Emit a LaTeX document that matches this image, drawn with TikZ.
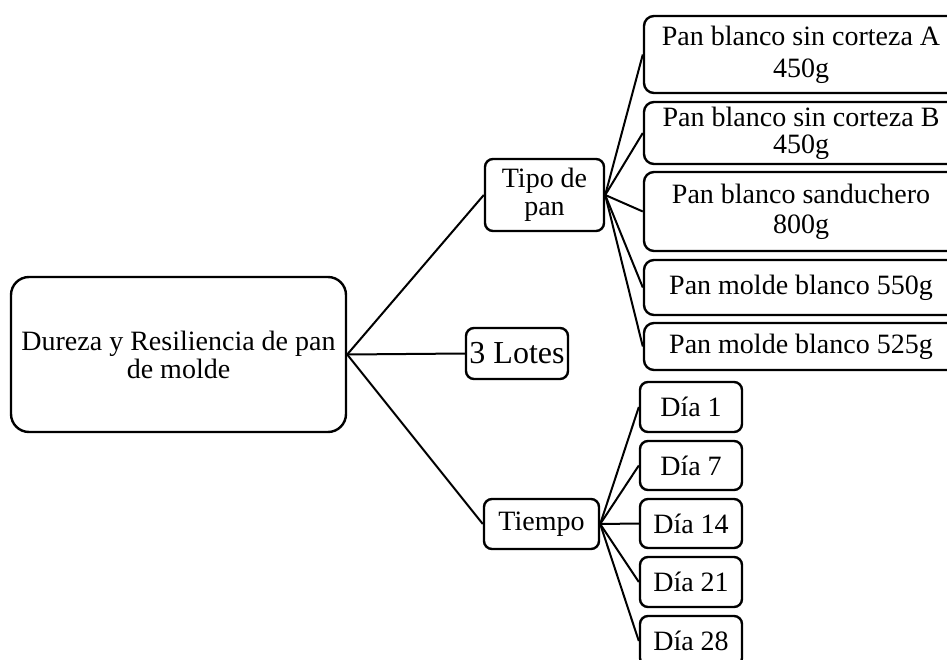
\documentclass[tikz,border=0pt]{standalone}
\usepackage{fontspec}
\setmainfont{Liberation Serif}
\begin{document}
\begin{tikzpicture}[x=1pt,y=-1pt,
  box/.style={draw=black,line width=2.4pt,rounded corners=8pt,inner sep=0pt,align=center,
    font={\fontsize{28}{28}\selectfont}},
  link/.style={draw=black,line width=2pt}]
\useasboundingbox (0,0) rectangle (947,660);
\clip (0,0) rectangle (947,660);
\node[box,rounded corners=18pt,minimum width=335pt,minimum height=155pt] (root) at (178.5,354.5) {Dureza y Resiliencia de pan\\de molde};
\node[box,minimum width=119pt,minimum height=72pt,font={\fontsize{28}{28}\selectfont}] (tipo) at (544.5,195) {Tipo de\\pan};
\node[box,minimum width=102pt,minimum height=51pt,font={\fontsize{32}{32}\selectfont}] (lotes) at (517,353.5) {3 Lotes};
\node[box,minimum width=115pt,minimum height=50pt] (tiempo) at (541.5,524) {Tiempo};
\node[box,rounded corners=10pt,minimum width=314pt,minimum height=77pt,font={\fontsize{28}{32}\selectfont}] (p1) at (801,54.5) {Pan blanco sin corteza A\\450g};
\node[box,rounded corners=10pt,minimum width=314pt,minimum height=62pt,font={\fontsize{28}{27}\selectfont}] (p2) at (801,133) {Pan blanco sin corteza B\\450g};
\node[box,rounded corners=10pt,minimum width=314pt,minimum height=79pt,font={\fontsize{28}{30}\selectfont}] (p3) at (801,211.5) {Pan blanco sanduchero\\800g};
\node[box,rounded corners=10pt,minimum width=314pt,minimum height=55pt] (p4) at (801,287.5) {Pan molde blanco 550g};
\node[box,rounded corners=10pt,minimum width=314pt,minimum height=47pt] (p5) at (801,346.5) {Pan molde blanco 525g};
\node[box,minimum width=102pt,minimum height=50pt] (d1) at (691,407) {Día 1};
\node[box,minimum width=102pt,minimum height=49pt] (d7) at (691,465.5) {Día 7};
\node[box,minimum width=102pt,minimum height=49pt] (d14) at (691,523.5) {Día 14};
\node[box,minimum width=102pt,minimum height=50pt] (d21) at (691,582) {Día 21};
\node[box,minimum width=102pt,minimum height=50pt] (d28) at (691,641) {Día 28};
\foreach \t in {tipo,lotes,tiempo} \draw[link] (root.east) -- (\t.west);
\foreach \t in {p1,p2,p3,p4,p5} \draw[link] (tipo.east) -- (\t.west);
\foreach \t in {d1,d7,d14,d21,d28} \draw[link] (tiempo.east) -- (\t.west);
\end{tikzpicture}
\end{document}
